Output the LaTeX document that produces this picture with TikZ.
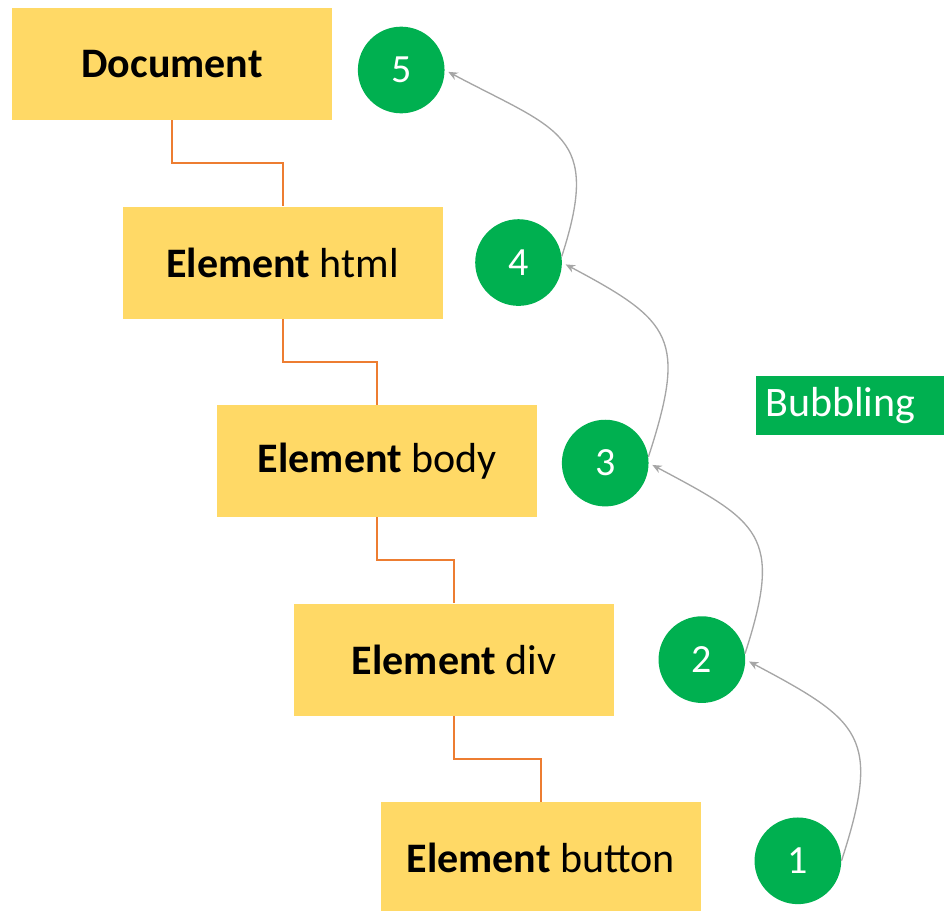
\documentclass[tikz,border=0pt]{standalone}
\usepackage{fontspec}
\setmainfont{Carlito}
\usetikzlibrary{arrows.meta}
\usetikzlibrary{positioning}
\definecolor{boxyellow}{HTML}{FFD966}
\definecolor{numgreen}{HTML}{00B050}
\definecolor{linkorange}{HTML}{ED7D31}
\definecolor{arrowgray}{HTML}{A6A6A6}
\tikzstyle{elem} = [rectangle, fill=boxyellow, minimum width=240pt, minimum
height=84pt, text centered, font=\fontsize{31.5}{37}\selectfont]
\tikzstyle{num} = [circle, fill=numgreen, minimum size=65pt, inner sep=0pt,
text=white, font=\fontsize{30}{36}\selectfont]
\tikzstyle{link} = [linkorange, line width=1.3pt]
\tikzstyle{bubble} = [arrowgray, line width=1pt, -{Stealth[length=7pt,width=6pt]}, shorten >=3pt]

\begin{document}
\begin{tikzpicture}[x=0.75pt, y=-0.75pt, node distance=64.5pt]
  \useasboundingbox (0,0) rectangle (944,910);

  % the tree of elements
  \node (doc) [elem] at (172,64) {\textbf{Document}};
  \node (html) [elem, below=of doc, xshift=83pt] {\textbf{Element} html};
  \node (body) [elem, below=of html, xshift=71pt] {\textbf{Element} body};
  \node (div) [elem, below=of body, xshift=57.5pt] {\textbf{Element} div};
  \node (button) [elem, below=of div, xshift=65pt] {\textbf{Element} button};

  \draw [link] (doc.south) -- ++(0,43) -| (html.north);
  \draw [link] (html.south) -- ++(0,43) -| (body.north);
  \draw [link] (body.south) -- ++(0,43) -| (div.north);
  \draw [link] (div.south) -- ++(0,43) -| (button.north);

  % steps of the bubbling
  \node (step5) [num, right=19pt of doc, yshift=-4.5pt] {5};
  \node (step4) [num, right=24pt of html] {4};
  \node (step3) [num, right=18pt of body, yshift=-1.5pt] {3};
  \node (step2) [num, right=33pt of div] {2};
  \node (step1) [num, right=40pt of button, yshift=-2pt] {1};

  \draw [bubble] (step1.east) to[out=72, in=-28, looseness=1.5] (step2.east);
  \draw [bubble] (step2.8) to[out=72, in=-28, looseness=1.5] (step3.east);
  \draw [bubble] (step3.8) to[out=72, in=-28, looseness=1.5] (step4.east);
  \draw [bubble] (step4.8) to[out=72, in=-28, looseness=1.5] (step5.east);

  \node (label) [rectangle, fill=numgreen, text=white, inner sep=7pt, text
  width=127pt, align=left, minimum height=44pt,
  font=\fontsize{31.5}{37}\selectfont] at (850,405.5) {Bubbling};
\end{tikzpicture}
\end{document}
